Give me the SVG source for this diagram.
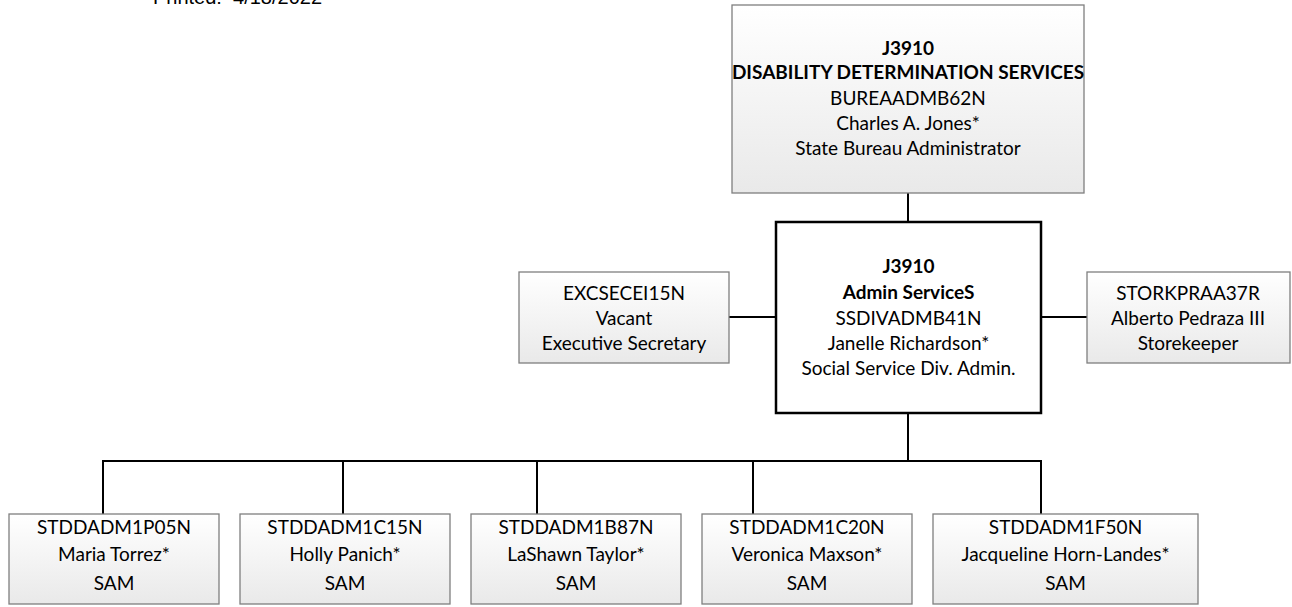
<svg xmlns="http://www.w3.org/2000/svg" width="1292" height="607" viewBox="0 0 1292 607">
<defs>
<linearGradient id="g" x1="0" y1="0" x2="0" y2="1">
<stop offset="0" stop-color="#ffffff"/>
<stop offset="1" stop-color="#e9e9e9"/>
</linearGradient>
</defs>
<style>
.box{fill:url(#g);stroke:#7f7f7f;stroke-width:1.3}
.main{fill:#ffffff;stroke:#000;stroke-width:2.5}
.t{font-family:Lato,"Liberation Sans",sans-serif;font-size:19px;fill:#000;text-anchor:middle}
.b{font-weight:bold}
.c{stroke:#000;stroke-width:2;fill:none}
.p{font-family:"Liberation Sans",Arial,sans-serif;font-size:20px;fill:#000}
</style>
<rect width="1292" height="607" fill="#fff"/>
<text class="p" x="153" y="3.5" xml:space="preserve">Printed:  4/18/2022</text>
<g id="connectors">
<path class="c" d="M908 193V222"/>
<path class="c" d="M729 317H776"/>
<path class="c" d="M1041 317H1087"/>
<path class="c" d="M908 413V461"/>
<path class="c" d="M103 514V461H1041V514"/>
<path class="c" d="M343 461V514"/>
<path class="c" d="M537 461V514"/>
<path class="c" d="M753 461V514"/>
</g>
<g id="dds">
<rect class="box" x="732" y="5" width="352" height="188"/>
<text class="t b" x="908" y="55">J3910</text>
<text class="t b" x="908" y="79">DISABILITY DETERMINATION SERVICES</text>
<text class="t" x="908" y="105">BUREAADMB62N</text>
<text class="t" x="908" y="130">Charles A. Jones*</text>
<text class="t" x="908" y="155">State Bureau Administrator</text>
</g>
<g id="admin">
<rect class="main" x="776" y="222" width="265" height="191"/>
<text class="t b" x="908.5" y="273">J3910</text>
<text class="t b" x="908.5" y="299">Admin ServiceS</text>
<text class="t" x="908.5" y="325">SSDIVADMB41N</text>
<text class="t" x="908.5" y="350">Janelle Richardson*</text>
<text class="t" x="908.5" y="375">Social Service Div. Admin.</text>
</g>
<g id="exec">
<rect class="box" x="519" y="272" width="210" height="91"/>
<text class="t" x="624" y="300">EXCSECEI15N</text>
<text class="t" x="624" y="325">Vacant</text>
<text class="t" x="624" y="350">Executive Secretary</text>
</g>
<g id="store">
<rect class="box" x="1087" y="272" width="203" height="91"/>
<text class="t" x="1188" y="300">STORKPRAA37R</text>
<text class="t" x="1188" y="325">Alberto Pedraza III</text>
<text class="t" x="1188" y="350">Storekeeper</text>
</g>
<g id="sam1">
<rect class="box" x="9" y="514" width="210" height="90"/>
<text class="t" x="114" y="534">STDDADM1P05N</text>
<text class="t" x="114" y="561">Maria Torrez*</text>
<text class="t" x="114" y="590">SAM</text>
</g>
<g id="sam2">
<rect class="box" x="240" y="514" width="210" height="90"/>
<text class="t" x="345" y="534">STDDADM1C15N</text>
<text class="t" x="345" y="561">Holly Panich*</text>
<text class="t" x="345" y="590">SAM</text>
</g>
<g id="sam3">
<rect class="box" x="471" y="514" width="210" height="90"/>
<text class="t" x="576" y="534">STDDADM1B87N</text>
<text class="t" x="576" y="561">LaShawn Taylor*</text>
<text class="t" x="576" y="590">SAM</text>
</g>
<g id="sam4">
<rect class="box" x="702" y="514" width="210" height="90"/>
<text class="t" x="807" y="534">STDDADM1C20N</text>
<text class="t" x="807" y="561">Veronica Maxson*</text>
<text class="t" x="807" y="590">SAM</text>
</g>
<g id="sam5">
<rect class="box" x="933" y="514" width="265" height="90"/>
<text class="t" x="1065.5" y="534">STDDADM1F50N</text>
<text class="t" x="1065.5" y="561">Jacqueline Horn-Landes*</text>
<text class="t" x="1065.5" y="590">SAM</text>
</g>
</svg>
